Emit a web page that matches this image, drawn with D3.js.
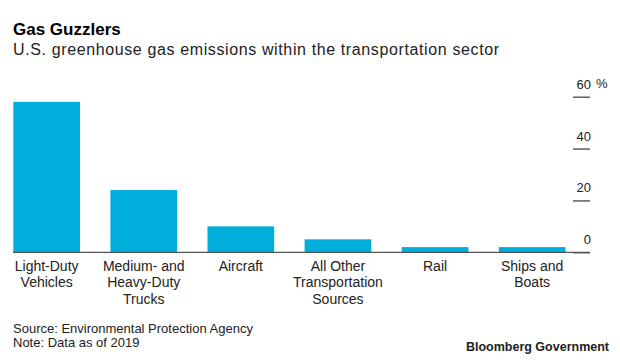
<!DOCTYPE html>
<html>
<head>
<meta charset="utf-8">
<script src="https://cdn.jsdelivr.net/npm/d3@7"></script>
<style>
  body { margin: 0; background: #fff; }
  svg { display: block; font-family: "Liberation Sans", Arial, sans-serif; }
</style>
</head>
<body>
<div id="chart"></div>
<script>
// data (share of transportation emissions, %)
var categories = ["Light-Duty Vehicles", "Medium- and Heavy-Duty Trucks", "Aircraft",
  "All Other Transportation Sources", "Rail", "Ships and Boats"];
var labelLines = [
  ["Light-Duty", "Vehicles"],
  ["Medium- and", "Heavy-Duty", "Trucks"],
  ["Aircraft"],
  ["All Other", "Transportation", "Sources"],
  ["Rail"],
  ["Ships and", "Boats"]
];
var shares = [58, 24, 10, 5, 2, 2];
var tickValues = [0, 20, 40, 60];

var svgWidth = 620;
var svgHeight = 361;

var svg = d3.select("#chart")
  .append("svg")
  .attr("width", svgWidth)
  .attr("height", svgHeight);

var x = d3.scaleBand()
  .domain(categories)
  .range([13.3, 565.5])
  .paddingInner(0.313)
  .paddingOuter(0);

var y = d3.scaleLinear()
  .domain([0, 60])
  .range([252.3, 96.7]);

// titles
svg.append("text")
  .attr("x", 13)
  .attr("y", 35)
  .attr("font-size", "17px")
  .attr("font-weight", "bold")
  .attr("fill", "#000")
  .text("Gas Guzzlers");

svg.append("text")
  .attr("x", 13)
  .attr("y", 55)
  .attr("font-size", "16px")
  .attr("letter-spacing", "0.62px")
  .attr("fill", "#222")
  .text("U.S. greenhouse gas emissions within the transportation sector");

// bars
svg.selectAll("rect.bar")
  .data(shares)
  .enter()
  .append("rect")
  .attr("class", "bar")
  .attr("x", (d, i) => x(categories[i]))
  .attr("y", d => y(d))
  .attr("width", x.bandwidth())
  .attr("height", d => y(0) - y(d))
  .attr("fill", "#00aedb");

// right axis: short ticks with labels above them
var rightAxis = d3.axisLeft(y)
  .tickValues(tickValues)
  .tickSize(17)
  .tickFormat(d => d);

var axisG = svg.append("g")
  .attr("transform", "translate(590,0)")
  .call(rightAxis);

axisG.select(".domain").remove();
axisG.selectAll(".tick line")
  .attr("stroke", "#444")
  .attr("stroke-width", 1.3);
axisG.selectAll(".tick text")
  .attr("x", 1)
  .attr("dy", "-8.5")
  .attr("text-anchor", "end")
  .attr("font-size", "13px")
  .attr("font-family", "Liberation Sans, Arial, sans-serif")
  .attr("fill", "#222");

axisG.append("text")
  .attr("x", 6)
  .attr("y", y(60) - 8.5)
  .attr("text-anchor", "start")
  .attr("font-size", "13px")
  .attr("font-family", "Liberation Sans, Arial, sans-serif")
  .attr("fill", "#222")
  .text("%");

// baseline
svg.append("line")
  .attr("x1", 13)
  .attr("x2", 590)
  .attr("y1", y(0))
  .attr("y2", y(0))
  .attr("stroke", "#555")
  .attr("stroke-width", 1.3);

// category labels
var labels = svg.selectAll("text.cat")
  .data(categories)
  .enter()
  .append("text")
  .attr("class", "cat")
  .attr("x", d => x(d) + x.bandwidth() / 2)
  .attr("y", 270.7)
  .attr("text-anchor", "middle")
  .attr("font-size", "14px")
  .attr("fill", "#222");

labels.each(function(d, i) {
  var t = d3.select(this);
  labelLines[i].forEach(function(line, j) {
    t.append("tspan")
      .attr("x", x(d) + x.bandwidth() / 2)
      .attr("dy", j === 0 ? 0 : 16.7)
      .text(line);
  });
});

// footer
svg.append("text")
  .attr("x", 13)
  .attr("y", 332.5)
  .attr("font-size", "13px")
  .attr("fill", "#222")
  .text("Source: Environmental Protection Agency");

svg.append("text")
  .attr("x", 13)
  .attr("y", 346.5)
  .attr("font-size", "13px")
  .attr("fill", "#222")
  .text("Note: Data as of 2019");

svg.append("text")
  .attr("x", 609)
  .attr("y", 351)
  .attr("text-anchor", "end")
  .attr("font-size", "12.5px")
  .attr("font-weight", "bold")
  .attr("fill", "#222")
  .text("Bloomberg Government");
</script>
</body>
</html>
